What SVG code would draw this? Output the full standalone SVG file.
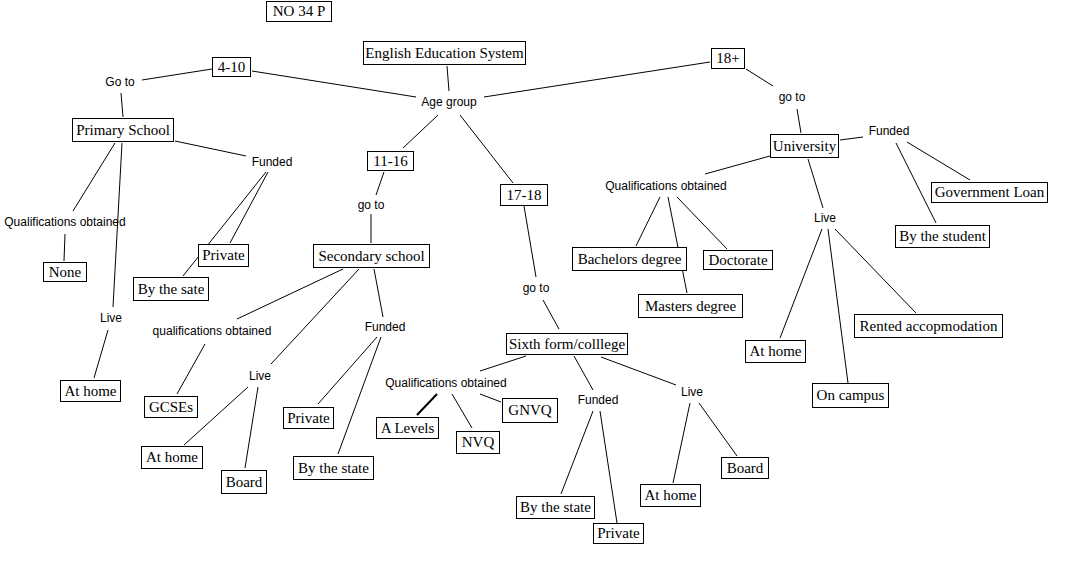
<svg xmlns="http://www.w3.org/2000/svg" width="1092" height="585" viewBox="0 0 1092 585">
<style>
.n rect{fill:#fff;stroke:#000;stroke-width:1}
.n text{font-family:"Liberation Serif","Times New Roman",serif;font-size:15px;fill:#000;text-anchor:middle}
.l text{font-family:"Liberation Sans",Arial,sans-serif;font-size:12px;fill:#000;text-anchor:middle}
#connectors line{stroke:#000;stroke-width:1}
#connectors line.thick{stroke-width:2}
</style>
<rect width="1092" height="585" fill="#fff"/>
<g id="connectors">
<line x1="212" y1="69" x2="142" y2="80"/>
<line x1="252" y1="71" x2="416" y2="97"/>
<line x1="121" y1="93" x2="123" y2="117"/>
<line x1="175" y1="141" x2="246" y2="156"/>
<line x1="115" y1="143" x2="73" y2="211"/>
<line x1="122" y1="143" x2="113" y2="307"/>
<line x1="266" y1="172" x2="183" y2="276"/>
<line x1="268" y1="172" x2="230" y2="243"/>
<line x1="65" y1="234" x2="64" y2="261"/>
<line x1="108" y1="330" x2="94" y2="378"/>
<line x1="447" y1="66" x2="449" y2="91"/>
<line x1="484" y1="97" x2="710" y2="62"/>
<line x1="438" y1="115" x2="403" y2="148"/>
<line x1="460" y1="115" x2="513" y2="183"/>
<line x1="384" y1="172" x2="376" y2="195"/>
<line x1="371" y1="214" x2="371" y2="243"/>
<line x1="343" y1="269" x2="237" y2="319"/>
<line x1="359" y1="269" x2="271" y2="364"/>
<line x1="374" y1="269" x2="383" y2="317"/>
<line x1="377" y1="337" x2="318" y2="404"/>
<line x1="381" y1="337" x2="338" y2="454"/>
<line x1="205" y1="344" x2="177" y2="394"/>
<line x1="248" y1="387" x2="184" y2="445"/>
<line x1="258" y1="387" x2="245" y2="468"/>
<line x1="524" y1="206" x2="536" y2="277"/>
<line x1="543" y1="300" x2="559" y2="329"/>
<line x1="526" y1="356" x2="480" y2="371"/>
<line class="thick" x1="437" y1="394" x2="417" y2="415"/>
<line x1="452" y1="394" x2="472" y2="428"/>
<line x1="480" y1="394" x2="501" y2="402"/>
<line x1="574" y1="356" x2="593" y2="390"/>
<line x1="601" y1="357" x2="676" y2="385"/>
<line x1="593" y1="411" x2="561" y2="494"/>
<line x1="600" y1="411" x2="617" y2="523"/>
<line x1="690" y1="403" x2="673" y2="483"/>
<line x1="699" y1="403" x2="737" y2="456"/>
<line x1="746" y1="69" x2="773" y2="86"/>
<line x1="797" y1="109" x2="801" y2="133"/>
<line x1="840" y1="140" x2="863" y2="137"/>
<line x1="907" y1="142" x2="970" y2="180"/>
<line x1="896" y1="143" x2="936" y2="223"/>
<line x1="770" y1="156" x2="705" y2="174"/>
<line x1="808" y1="159" x2="823" y2="208"/>
<line x1="660" y1="197" x2="636" y2="246"/>
<line x1="668" y1="197" x2="687" y2="293"/>
<line x1="677" y1="197" x2="727" y2="249"/>
<line x1="822" y1="229" x2="780" y2="338"/>
<line x1="828" y1="229" x2="848" y2="383"/>
<line x1="835" y1="229" x2="916" y2="313"/>
</g>
<g id="labels" class="l">
<g id="lbl-goto-1"><text x="120" y="86">Go to</text></g>
<g id="lbl-agegroup"><text x="449" y="106">Age group</text></g>
<g id="lbl-goto-18"><text x="792" y="101">go to</text></g>
<g id="lbl-funded-uni"><text x="889" y="135">Funded</text></g>
<g id="lbl-qual-uni"><text x="666" y="190">Qualifications obtained</text></g>
<g id="lbl-live-uni"><text x="825" y="222">Live</text></g>
<g id="lbl-funded-prim"><text x="272" y="166">Funded</text></g>
<g id="lbl-qual-prim"><text x="65" y="226">Qualifications obtained</text></g>
<g id="lbl-live-prim"><text x="111" y="322">Live</text></g>
<g id="lbl-goto-11"><text x="371" y="209">go to</text></g>
<g id="lbl-qual-sec"><text x="212" y="335">qualifications obtained</text></g>
<g id="lbl-live-sec"><text x="260" y="380">Live</text></g>
<g id="lbl-funded-sec"><text x="385" y="331">Funded</text></g>
<g id="lbl-goto-17"><text x="536" y="292">go to</text></g>
<g id="lbl-qual-sixth"><text x="446" y="387">Qualifications obtained</text></g>
<g id="lbl-funded-sixth"><text x="598" y="404">Funded</text></g>
<g id="lbl-live-sixth"><text x="692" y="396">Live</text></g>
</g>
<g id="n-no34p" class="n"><rect x="266.5" y="1.5" width="65" height="20"/><text x="299" y="16">NO 34 P</text></g>
<g id="n-english" class="n"><rect x="363.5" y="41.5" width="162" height="23"/><text x="444.5" y="57.5">English Education System</text></g>
<g id="n-4-10" class="n"><rect x="212.5" y="57.5" width="38" height="19"/><text x="231.5" y="71.5">4-10</text></g>
<g id="n-18plus" class="n"><rect x="711.5" y="48.5" width="33" height="20"/><text x="728" y="63">18+</text></g>
<g id="n-primary" class="n"><rect x="72.5" y="118.5" width="101" height="23"/><text x="123" y="134.5">Primary School</text></g>
<g id="n-11-16" class="n"><rect x="367.5" y="151.5" width="46" height="19"/><text x="390.5" y="165.5">11-16</text></g>
<g id="n-17-18" class="n"><rect x="500.5" y="184.5" width="47" height="21"/><text x="524" y="199.5">17-18</text></g>
<g id="n-university" class="n"><rect x="770.5" y="134.5" width="68" height="23"/><text x="804.5" y="150.5">University</text></g>
<g id="n-govloan" class="n"><rect x="931.5" y="182.5" width="116" height="20"/><text x="989.5" y="197">Government Loan</text></g>
<g id="n-bystudent" class="n"><rect x="895.5" y="225.5" width="94" height="22"/><text x="942.5" y="241">By the student</text></g>
<g id="n-bachelors" class="n"><rect x="572.5" y="247.5" width="114" height="23"/><text x="629.5" y="263.5">Bachelors degree</text></g>
<g id="n-doctorate" class="n"><rect x="703.5" y="250.5" width="69" height="19"/><text x="738" y="264.5">Doctorate</text></g>
<g id="n-masters" class="n"><rect x="638.5" y="294.5" width="104" height="23"/><text x="690.5" y="310.5">Masters degree</text></g>
<g id="n-rented" class="n"><rect x="854.5" y="314.5" width="148" height="23"/><text x="928.5" y="330.5">Rented accopmodation</text></g>
<g id="n-athome-uni" class="n"><rect x="745.5" y="340.5" width="60" height="22"/><text x="775.5" y="356">At home</text></g>
<g id="n-oncampus" class="n"><rect x="812.5" y="383.5" width="76" height="24"/><text x="850.5" y="400">On campus</text></g>
<g id="n-none" class="n"><rect x="43.5" y="262.5" width="43" height="19"/><text x="65" y="276.5">None</text></g>
<g id="n-private-prim" class="n"><rect x="198.5" y="244.5" width="50" height="22"/><text x="223.5" y="260">Private</text></g>
<g id="n-bysate" class="n"><rect x="133.5" y="277.5" width="75" height="23"/><text x="171" y="293.5">By the sate</text></g>
<g id="n-athome-prim" class="n"><rect x="60.5" y="380.5" width="60" height="21"/><text x="90.5" y="395.5">At home</text></g>
<g id="n-secondary" class="n"><rect x="313.5" y="244.5" width="116" height="23"/><text x="371.5" y="260.5">Secondary school</text></g>
<g id="n-gcses" class="n"><rect x="144.5" y="396.5" width="53" height="21"/><text x="171" y="411.5">GCSEs</text></g>
<g id="n-athome-sec" class="n"><rect x="141.5" y="446.5" width="61" height="22"/><text x="172" y="462">At home</text></g>
<g id="n-board-sec" class="n"><rect x="221.5" y="470.5" width="45" height="23"/><text x="244" y="486.5">Board</text></g>
<g id="n-private-sec" class="n"><rect x="283.5" y="407.5" width="50" height="21"/><text x="308.5" y="422.5">Private</text></g>
<g id="n-bystate-sec" class="n"><rect x="293.5" y="456.5" width="80" height="23"/><text x="333.5" y="472.5">By the state</text></g>
<g id="n-sixth" class="n"><rect x="506.5" y="333.5" width="121" height="21"/><text x="567" y="348.5">Sixth form/colllege</text></g>
<g id="n-alevels" class="n"><rect x="376.5" y="417.5" width="62" height="21"/><text x="407.5" y="432.5">A Levels</text></g>
<g id="n-nvq" class="n"><rect x="456.5" y="431.5" width="43" height="22"/><text x="478" y="447">NVQ</text></g>
<g id="n-gnvq" class="n"><rect x="502.5" y="398.5" width="55" height="24"/><text x="530" y="415">GNVQ</text></g>
<g id="n-bystate-sixth" class="n"><rect x="516.5" y="496.5" width="78" height="22"/><text x="555.5" y="512">By the state</text></g>
<g id="n-private-sixth" class="n"><rect x="593.5" y="523.5" width="50" height="20"/><text x="618.5" y="538">Private</text></g>
<g id="n-athome-sixth" class="n"><rect x="640.5" y="484.5" width="60" height="22"/><text x="670.5" y="500">At home</text></g>
<g id="n-board-sixth" class="n"><rect x="721.5" y="457.5" width="47" height="21"/><text x="745" y="472.5">Board</text></g>
</svg>
